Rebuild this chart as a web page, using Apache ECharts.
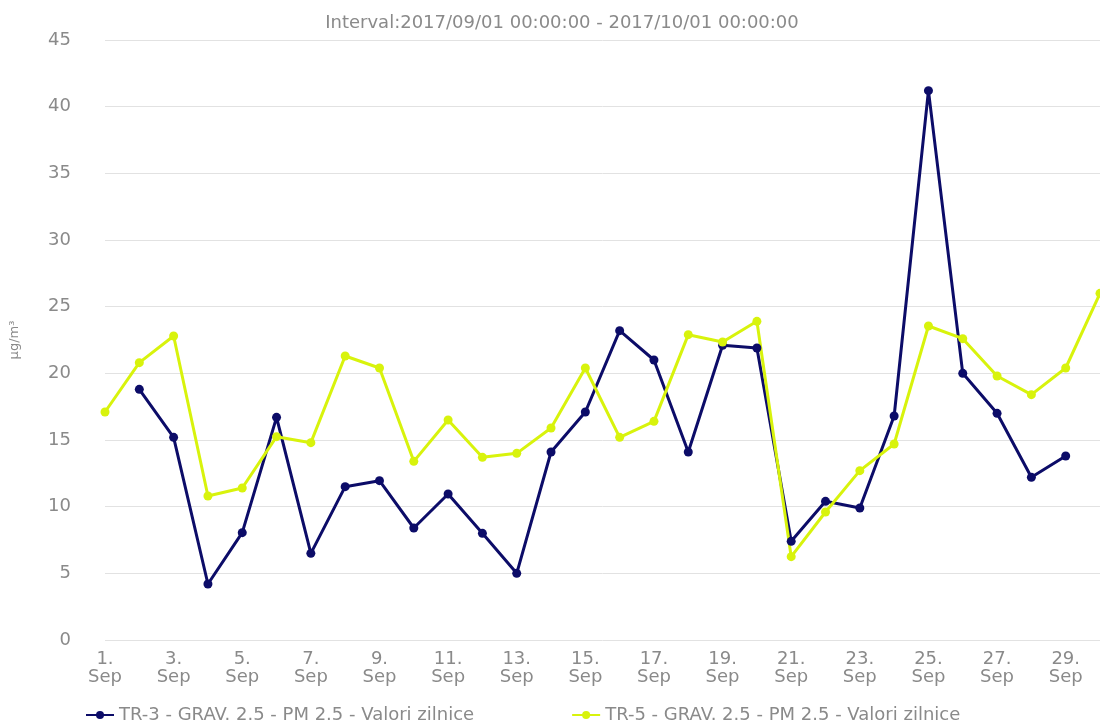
<!DOCTYPE html>
<html>
<head>
<meta charset="utf-8">
<script src="https://cdn.jsdelivr.net/npm/echarts@6/dist/echarts.min.js"></script>
<style>
  html, body { margin: 0; padding: 0; background: #fff; }
  #chart { width: 1100px; height: 722px; }
</style>
</head>
<body>
<div id="chart"></div>
<script>
// zilele lunii septembrie 2017
const zile = [];
for (let d = 1; d <= 30; d++) zile.push(d + ".\nSep");

// TR-3 (1 si 30 Sep lipsesc)
const tr3 = [null, 18.8, 15.2, 4.2, 8.05, 16.7, 6.5, 11.5, 11.95, 8.4,
  10.95, 8.0, 5.0, 14.1, 17.1, 23.2, 21.0, 14.1, 22.1, 21.9,
  7.4, 10.4, 9.9, 16.8, 41.2, 20.0, 17.0, 12.2, 13.8, null];

// TR-5
const tr5 = [17.1, 20.8, 22.8, 10.8, 11.4, 15.25, 14.8, 21.3, 20.4, 13.4,
  16.5, 13.7, 14.0, 15.9, 20.4, 15.2, 16.4, 22.9, 22.35, 23.9,
  6.25, 9.6, 12.7, 14.7, 23.55, 22.6, 19.8, 18.4, 20.4, 26.0];

const numeSerii = [
  "TR-3 - GRAV. 2.5 - PM 2.5 - Valori zilnice",
  "TR-5 - GRAV. 2.5 - PM 2.5 - Valori zilnice"
];
const culori = ["#0c0c68", "#d8f30c"];

const font = "DejaVu Sans";
const gri = "#8a8a8a";

let myChart = echarts.init(document.getElementById("chart"));

let option = {
  animation: false,
  color: culori,
  title: {
    text: "Interval:2017/09/01 00:00:00 - 2017/10/01 00:00:00",
    left: 557,
    textAlign: "center",
    top: 9,
    textStyle: { fontFamily: font, fontSize: 18, fontWeight: "normal", color: gri }
  },
  legend: {
    bottom: -7,
    left: 80,
    itemGap: 97,
    itemWidth: 28,
    itemHeight: 10,
    textStyle: { fontFamily: font, fontSize: 18, color: gri },
    data: numeSerii
  },
  grid: {
    left: 103,
    right: 0,
    top: 40,
    bottom: 82
  },
  xAxis: {
    type: "category",
    boundaryGap: false,
    data: zile,
    axisLine: { show: false },
    axisTick: { show: false },
    axisLabel: {
      interval: 1,
      margin: 10,
      color: gri,
      fontFamily: font,
      fontSize: 18,
      lineHeight: 18
    }
  },
  yAxis: {
    type: "value",
    min: 0,
    max: 45,
    interval: 5,
    name: "µg/m³",
    nameLocation: "middle",
    nameRotate: 90,
    nameGap: 84,
    nameTextStyle: { fontFamily: font, fontSize: 13, color: gri },
    axisLabel: { color: gri, fontFamily: font, fontSize: 18, margin: 34 },
    splitLine: { lineStyle: { color: "#e2e2e2", width: 1 } }
  },
  series: [
    {
      name: numeSerii[0],
      type: "line",
      data: tr3,
      symbol: "circle",
      symbolSize: 9,
      clip: false,
      lineStyle: { width: 3 }
    },
    {
      name: numeSerii[1],
      type: "line",
      data: tr5,
      symbol: "circle",
      symbolSize: 9,
      clip: false,
      lineStyle: { width: 3 }
    }
  ]
};

myChart.setOption(option);
</script>
</body>
</html>
